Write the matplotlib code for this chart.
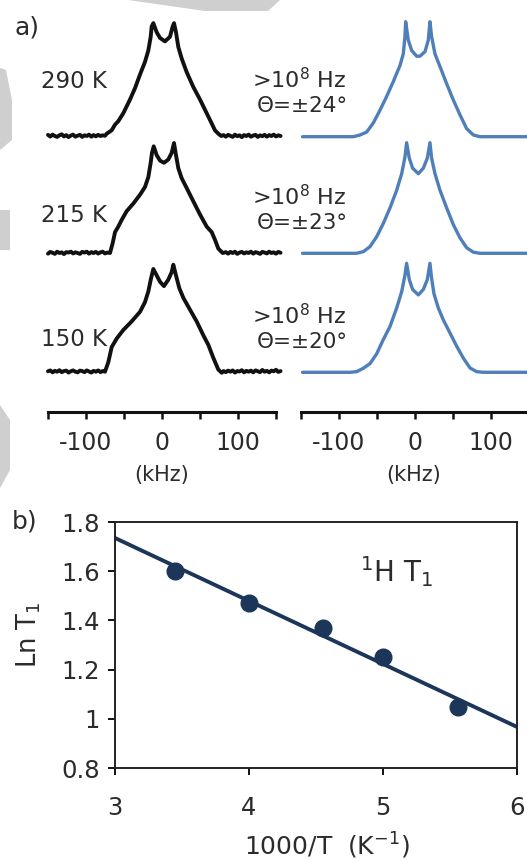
import matplotlib
matplotlib.use("Agg")
import matplotlib.pyplot as plt
from matplotlib.patches import Polygon

# ---------------- data ----------------
# panel a, experimental 1H spectra (kHz, normalised intensity)
exp_khz_290 = [-150, -147, -144, -141, -138, -135, -132, -129, -126, -123, -120, -117, -114, -111, -108, -105,
               -102, -99, -96, -93, -90, -87, -84, -81, -78, -75,
               -72.8, -66.2, -61.8, -57.5, -50.9, -42.1, -35.5, -28.9, -22.4, -18,
               -14.9, -13.6, -11.4, -7, -2.6, 3.9, 10.5, 14, 15.8, 18.4,
               21.5, 25.9, 32.5, 41.2, 50, 58.8, 65.4, 69.7, 74.1,
               78, 81, 84, 87, 90, 93, 96, 99, 102, 105, 108, 111, 114, 117, 120, 123, 126, 129, 132, 135,
               138, 141, 144, 147, 150, 153, 156]
exp_int_290 = [0.01, -0.005, 0.012, 0.0, -0.008, 0.006, 0.015, -0.004, 0.008, -0.01, 0.004, 0.012, -0.006, 0.003,
               0.01, -0.008, 0.006, 0.0, 0.012, -0.006, 0.008, -0.003, 0.01, 0.0, 0.006, 0.002,
               0.02, 0.05, 0.10, 0.13, 0.20, 0.32, 0.42, 0.54, 0.65, 0.75,
               0.87, 0.96, 0.99, 0.91, 0.86, 0.83, 0.87, 0.96, 0.99, 0.91,
               0.78, 0.68, 0.56, 0.43, 0.32, 0.20, 0.11, 0.05, 0.02,
               0.0, 0.008, -0.006, 0.01, 0.002, -0.008, 0.012, -0.002, 0.006, -0.01, 0.008, 0.0, 0.012, -0.006,
               0.004, 0.01, -0.008, 0.006, -0.002, 0.01, -0.006, 0.008, 0.0, 0.012, -0.004, 0.006, 0.0]

exp_khz_215 = [-150, -147, -144, -141, -138, -135, -132, -129, -126, -123, -120, -117, -114, -111, -108, -105,
               -102, -99, -96, -93, -90, -87, -84, -81, -78, -75, -72,
               -68.4, -64.9, -61.8, -57.5, -53.1, -46.5, -37.7, -28.9, -22.4, -18,
               -14.9, -13.2, -10.9, -7, -2.6, 2.6, 8.3, 12.7, 15.8, 18.4,
               21.5, 25.9, 32.5, 41.2, 50, 58.8, 65.4, 69.7, 74.1, 79.8,
               84, 87, 90, 93, 96, 99, 102, 105, 108, 111, 114, 117, 120, 123, 126, 129, 132, 135, 138, 141,
               144, 147, 150, 153, 156]
exp_int_215 = [-0.006, 0.01, 0.002, -0.008, 0.012, 0.0, 0.006, -0.01, 0.008, 0.004, 0.012, -0.004, 0.006, 0.0,
               -0.008, 0.01, 0.004, 0.012, -0.006, 0.008, 0.0, 0.01, -0.005, 0.006, 0.012, -0.004, 0.004,
               0.0, 0.09, 0.19, 0.24, 0.30, 0.38, 0.45, 0.53, 0.60, 0.69,
               0.82, 0.91, 0.97, 0.89, 0.84, 0.82, 0.85, 0.91, 1.0, 0.89,
               0.77, 0.68, 0.59, 0.47, 0.35, 0.24, 0.19, 0.12, 0.04, 0.0,
               0.008, -0.006, 0.01, 0.0, 0.012, -0.008, 0.004, 0.01, -0.004, 0.006, 0.0, 0.012, -0.006, 0.008,
               0.002, -0.008, 0.01, 0.004, -0.004, 0.012, 0.0, 0.006, -0.006, 0.01, 0.002]

exp_khz_150 = [-150, -147, -144, -141, -138, -135, -132, -129, -126, -123, -120, -117, -114, -111, -108, -105,
               -102, -99, -96, -93, -90, -87, -84, -81, -78,
               -75, -70.6, -66.2, -59.6, -50.9, -39.9, -28.9, -22.4, -18, -14.5,
               -11.4, -7, -2.6, 2.6, 8.3, 12.7, 14.9, 18.4, 22.8, 28.1,
               36.8, 45.6, 54.4, 61, 67.5, 74.1, 78.6,
               81, 84, 87, 90, 93, 96, 99, 102, 105, 108, 111, 114, 117, 120, 123, 126, 129, 132, 135, 138,
               141, 144, 147, 150, 153, 156]
exp_int_150 = [0.004, 0.012, -0.006, 0.008, 0.0, 0.014, -0.004, 0.006, 0.01, -0.008, 0.004, 0.012, 0.0, -0.006,
               0.01, 0.006, -0.004, 0.012, 0.002, -0.008, 0.008, 0.0, 0.012, -0.004, 0.006,
               0.0, 0.09, 0.23, 0.31, 0.39, 0.47, 0.56, 0.65, 0.75, 0.87,
               0.96, 0.90, 0.84, 0.80, 0.86, 0.93, 1.0, 0.90, 0.78, 0.69,
               0.58, 0.47, 0.34, 0.25, 0.13, 0.02, -0.01,
               0.006, -0.004, 0.01, 0.0, 0.012, -0.008, 0.006, 0.002, 0.014, -0.006, 0.008, 0.0, 0.01, -0.006,
               0.012, 0.004, -0.004, 0.016, 0.0, 0.008, -0.006, 0.01, 0.004, 0.018, -0.002, 0.006]

# panel a, simulated spectra
sim_khz_24 = [-148, -120, -100, -81.1, -72.4, -63.6, -54.8, -46.1, -37.3, -28.5,
              -19.7, -15.4, -13.2, -12.3, -8.8, -4.4, 2.2, 6.6, 13.2, 17.5,
              19.7, 21.9, 26.3, 32.9, 41.7, 50.4, 59.2, 68, 76.8, 85.5, 110, 147]
sim_int_24 = [0, 0, 0, 0, 0.015, 0.04, 0.12, 0.23, 0.35, 0.48,
              0.62, 0.72, 0.87, 1.0, 0.84, 0.75, 0.70, 0.70, 0.74, 0.84,
              1.0, 0.87, 0.72, 0.61, 0.46, 0.32, 0.19, 0.07, 0.015, 0, 0, 0]
sim_khz_23 = [-148, -100, -76.8, -68, -59.2, -50.4, -41.7, -32.9, -24.1, -17.5,
              -13.2, -11, -7.5, -3.1, 4.4, 11, 16.2, 19.7, 21.9, 26.3,
              32.9, 41.7, 50.4, 59.2, 68, 76.8, 85.5, 110, 147]
sim_int_23 = [0, 0, 0, 0.015, 0.06, 0.15, 0.27, 0.41, 0.57, 0.72,
              0.87, 1.0, 0.86, 0.77, 0.72, 0.77, 0.86, 1.0, 0.86, 0.72,
              0.57, 0.41, 0.26, 0.14, 0.05, 0.01, 0, 0, 0]
sim_khz_20 = [-148, -100, -85.5, -76.8, -68, -59.2, -50.4, -41.7, -32.9, -24.1,
              -17.5, -13.2, -11, -7.5, -3.1, 4.4, 11, 16.2, 19.7, 21.9,
              25, 30.7, 37.3, 46.1, 54.8, 63.6, 72.4, 81.1, 89.9, 110, 147]
sim_int_20 = [0, 0, 0, 0.006, 0.037, 0.08, 0.17, 0.30, 0.42, 0.59,
              0.74, 0.89, 1.0, 0.85, 0.76, 0.71, 0.76, 0.85, 1.0, 0.86,
              0.72, 0.59, 0.48, 0.36, 0.24, 0.13, 0.04, 0.006, 0, 0, 0]

temps = ["290 K", "215 K", "150 K"]
sim_freq = [r">10$^8$ Hz", r">10$^8$ Hz", r">10$^8$ Hz"]
sim_theta = ["Θ=±24°", "Θ=±23°", "Θ=±20°"]
khz_ticks = [-150, -100, -50, 0, 50, 100, 150]
khz_labels = ["", "-100", "", "0", "", "100", ""]

# panel b, 1H T1
inv_T = [3.45, 4.0, 4.55, 5.0, 5.56]
ln_T1 = [1.60, 1.47, 1.37, 1.252, 1.048]
fit_x = [3.0, 6.0]
fit_y = [1.735, 0.967]
b_yticks = [0.8, 1.0, 1.2, 1.4, 1.6, 1.8]
b_ylabels = ["0.8", "1", "1.2", "1.4", "1.6", "1.8"]
b_xticks = [3, 4, 5, 6]

# ---------------- style ----------------
plt.rcParams['font.family'] = ['DejaVu Sans']
plt.rcParams['axes.unicode_minus'] = False
plt.rcParams['mathtext.fontset'] = 'dejavusans'

W, H = 527, 861
fig = plt.figure(figsize=(W / 100, H / 100), dpi=100)
fig.patch.set_facecolor('white')

TXT = '#2b2b2b'
BLK = '#111111'
BLUE = '#4f7fb8'
NAVY = '#1b3658'
GRAY = '#cfcfcf'


def px_rect(x0, y0, x1, y1):
    return [x0 / W, 1 - y1 / H, (x1 - x0) / W, (y1 - y0) / H]


# background watermark shapes
for pts in ([(128, 0), (205, 11), (268, 11), (280, 0)],
            [(0, 68), (6, 70), (12, 100), (12, 140), (0, 150)],
            [(0, 210), (10, 210), (10, 250), (0, 250)],
            [(0, 405), (10, 420), (10, 470), (0, 488)]):
    fig.patches.append(Polygon([(x / W, 1 - y / H) for x, y in pts], closed=True,
                               transform=fig.transFigure, facecolor=GRAY, edgecolor='none', zorder=0))

base_exp = [2.76, 1.59, 0.403]
amp_exp = [1.14, 1.10, 1.07]
base_sim = [2.753, 1.587, 0.397]
amp_sim = [1.15, 1.106, 1.09]

axL = fig.add_axes(px_rect(48, 10, 276, 412))
axR = fig.add_axes(px_rect(301, 10, 527, 412))
exp_sets = [(exp_khz_290, exp_int_290), (exp_khz_215, exp_int_215), (exp_khz_150, exp_int_150)]
sim_sets = [(sim_khz_24, sim_int_24), (sim_khz_23, sim_int_23), (sim_khz_20, sim_int_20)]

for ax in (axL, axR):
    ax.set_facecolor('none')
    ax.set_ylim(0, 4.02)
    for s in ('top', 'right', 'left'):
        ax.spines[s].set_visible(False)
    ax.spines['bottom'].set_linewidth(2.2)
    ax.spines['bottom'].set_color(BLK)
    ax.set_yticks([])
    ax.set_xticks(khz_ticks)
    ax.set_xticklabels(khz_labels)
    ax.tick_params(axis='x', direction='out', length=5, width=1.8, color=BLK,
                   labelsize=17, labelcolor=TXT, pad=9)
    ax.set_xlabel("(kHz)", fontsize=15, color=TXT, labelpad=7)

axL.set_xlim(-150, 150)
axR.set_xlim(-150, 147.4)

for i, (kx, ky) in enumerate(exp_sets):
    axL.plot(kx, [base_exp[i] + amp_exp[i] * v for v in ky], color=BLK, lw=2.8, clip_on=False,
             solid_joinstyle='round', solid_capstyle='round')
    axL.text(-116, [3.30, 1.97, 0.72][i], temps[i], fontsize=16.5, color=TXT, ha='center', va='center')

for i, (kx, ky) in enumerate(sim_sets):
    axR.plot(kx, [base_sim[i] + amp_sim[i] * v for v in ky], color=BLUE, lw=2.4, clip_on=False,
             solid_joinstyle='round', solid_capstyle='round')
    axR.text(-90, [3.32, 2.15, 0.96][i], sim_freq[i], fontsize=16, color=TXT, ha='right', va='center')
    axR.text(-88, [3.06, 1.89, 0.70][i], sim_theta[i], fontsize=15.5, color=TXT, ha='right', va='center')

fig.text(14 / W, 1 - 28 / H, "a)", fontsize=18, color=TXT, ha='left', va='center')
fig.text(12 / W, 1 - 521 / H, "b)", fontsize=18, color=TXT, ha='left', va='center')

# panel b
axb = fig.add_axes(px_rect(115, 522, 517, 768))
axb.plot(fit_x, fit_y, color=NAVY, lw=2.8, zorder=2)
axb.plot(inv_T, ln_T1, 'o', color=NAVY, markersize=12, zorder=3)
axb.set_xlim(3, 6)
axb.set_ylim(0.8, 1.8)
axb.set_yticks(b_yticks)
axb.set_yticklabels(b_ylabels)
axb.set_xticks(b_xticks)
for s in axb.spines.values():
    s.set_linewidth(1.4)
    s.set_color('#222222')
axb.tick_params(axis='y', direction='out', length=5, width=1.3, labelsize=17.5, labelcolor=TXT, pad=6)
axb.tick_params(axis='x', direction='out', length=5, width=1.3, labelsize=17.5, labelcolor=TXT, pad=15)
axb.set_ylabel(r"Ln T$_1$", fontsize=18.5, color=TXT)
axb.yaxis.set_label_coords(-0.178, 0.54)
axb.set_xlabel(r"1000/T  (K$^{-1}$)", fontsize=18, color=TXT)
axb.xaxis.set_label_coords(0.527, -0.255)
axb.text(0.70, 0.80, r"$^{1}$H T$_{1}$", transform=axb.transAxes, fontsize=20, color=TXT,
         ha='center', va='center')

fig.savefig("out.png", dpi=100, facecolor='white')
